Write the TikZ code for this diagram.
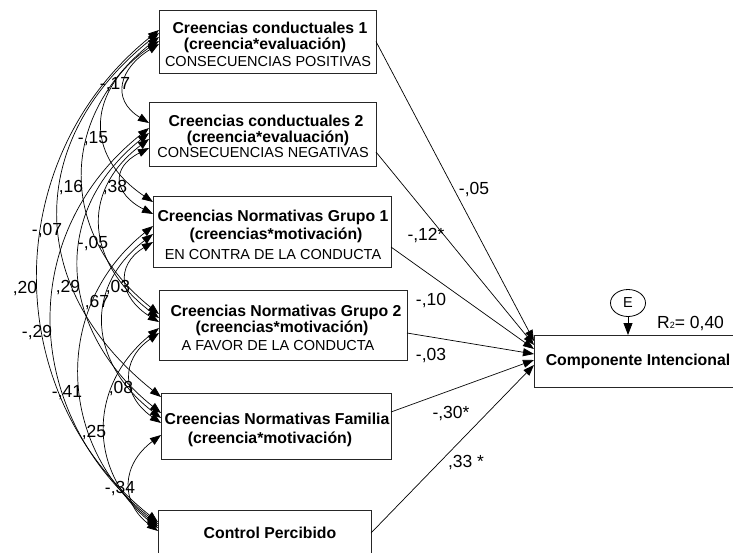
\documentclass[tikz,border=0pt]{standalone}
\usepackage{fontspec}
\setmainfont{Liberation Sans}
\usetikzlibrary{arrows.meta,calc,shapes.geometric}

\begin{document}
\begin{tikzpicture}[x=1pt,y=-1pt,
  >={Triangle[length=11pt,width=8pt]},
  rect/.style n args={2}{draw=black!85, line width=0.9pt, minimum width=#1, minimum height=#2, inner sep=0pt, outer sep=0pt},
  bt/.style={font=\bfseries\fontsize{15.8}{16}\selectfont, anchor=base, inner sep=0pt},
  ut/.style={font=\fontsize{14.5}{15}\selectfont, anchor=base, inner sep=0pt},
  lbl/.style={font=\fontsize{17.5}{18}\selectfont, anchor=base, inner sep=0pt},
  cov/.style={<->, line width=0.7pt},
  path/.style={->, line width=0.7pt}
]
\useasboundingbox (0,0) rectangle (733,552);

% observed variables
\node[rect={217pt}{63pt}] (b1) at (267.5,41.5) {};
\node[rect={227pt}{64pt}] (b2) at (262.5,134) {};
\node[rect={238pt}{71pt}] (b3) at (272,231.5) {};
\node[rect={248pt}{70pt}] (b4) at (283,325) {};
\node[rect={230pt}{66pt}] (b5) at (276,426) {};
\node[rect={213pt}{52pt}] (b6) at (264.5,536) {};
% dependent variable
\node[rect={211pt}{52pt}] (rb) at (639.5,361) {};
% error term
\node[draw, line width=0.8pt, ellipse, minimum width=35pt, minimum height=27pt, inner sep=0pt,
      font=\fontsize{14.5}{15}\selectfont] (E) at (628,303) {E};
\draw[->, line width=0.8pt, >={Triangle[length=12pt,width=9pt]}] (E.south) -- (E.south |- rb.north);

% box texts
\node[bt] (t1a) at (270,33) {Creencias conductuales 1};
\node[bt] (t1b) at (265,49) {(creencia*evaluación)};
\node[ut] (t1c) at (268,66) {CONSECUENCIAS POSITIVAS};
\node[bt] (t2a) at (266,126) {Creencias conductuales 2};
\node[bt] (t2b) at (268,142) {(creencia*evaluación)};
\node[ut] (t2c) at (263,157) {CONSECUENCIAS NEGATIVAS};
\node[bt] (t3a) at (273,221) {Creencias Normativas Grupo 1};
\node[bt] (t3b) at (276,239) {(creencias*motivación)};
\node[ut] (t3c) at (273,259) {EN CONTRA DE LA CONDUCTA};
\node[bt] (t4a) at (286,316) {Creencias Normativas Grupo 2};
\node[bt] (t4b) at (282,332) {(creencias*motivación)};
\node[ut] (t4c) at (278,350) {A FAVOR DE LA CONDUCTA};
\node[bt] (t5a) at (277,424) {Creencias Normativas Familia};
\node[bt] (t5b) at (270,443) {(creencia*motivación)};
\node[bt] (t6a) at (270,538) {Control Percibido};
\node[bt] (tra) at (638,365) {Componente Intencional};
\node[lbl, anchor=base west] (r2) at (657,328) {R{\fontsize{9}{9}\selectfont 2}= 0,40};

% covariances between the predictors
\draw[cov] ($(b1.west)+(0,2.5)$)  .. controls +(-39,24)   and +(-39,-24)   .. ($(b2.west)+(0,-11)$);
\draw[cov] ($(b1.west)+(0,-0.5)$) .. controls +(-71,48)   and +(-71,-48)   .. ($(b3.west)+(0,-29.5)$);
\draw[cov] ($(b1.west)+(0,-4.5)$) .. controls +(-101,81)  and +(-101,-81)  .. ($(b4.west)+(0,-11)$);
\draw[cov] ($(b1.west)+(0,-8.5)$) .. controls +(-135,108) and +(-135,-108) .. ($(b5.west)+(0,-29)$);
\draw[cov] ($(b1.west)+(0,-11.5)$) .. controls +(-160,128) and +(-160,-128) .. ($(b6.west)+(0,-14)$);
\draw[cov] ($(b2.west)+(0,14)$)   .. controls +(-39,20)   and +(-39,-20)   .. ($(b3.west)+(0,-17.5)$);
\draw[cov] ($(b2.west)+(0,5)$)    .. controls +(-71,54)   and +(-71,-54)   .. ($(b4.west)+(0,-7)$);
\draw[cov] ($(b2.west)+(0,-1)$)   .. controls +(-101,81)  and +(-101,-81)  .. ($(b5.west)+(0,-13)$);
\draw[cov] ($(b2.west)+(0,-6)$)   .. controls +(-135,108) and +(-135,-108) .. ($(b6.west)+(0,-12)$);
\draw[cov] ($(b3.west)+(0,10.5)$) .. controls +(-39,24)   and +(-39,-24)   .. ($(b4.west)+(0,-3)$);
\draw[cov] ($(b3.west)+(0,2.5)$)  .. controls +(-71,55)   and +(-71,-55)   .. ($(b5.west)+(0,-8)$);
\draw[cov] ($(b3.west)+(0,-5.5)$) .. controls +(-101,81)  and +(-101,-81)  .. ($(b6.west)+(0,-10)$);
\draw[cov] ($(b4.west)+(0,8)$)    .. controls +(-39,27)   and +(-39,-27)   .. ($(b5.west)+(0,-3)$);
\draw[cov] ($(b4.west)+(0,3)$)    .. controls +(-71,57)   and +(-71,-57)   .. ($(b6.west)+(0,-8)$);
\draw[cov] ($(b5.west)+(0,9)$)    .. controls +(-39,29)   and +(-39,-29)   .. ($(b6.west)+(0,-5)$);

% covariance values
\node[lbl] (c12) at (115,89)  {-,17};
\node[lbl] (c13) at (93,143)  {-,15};
\node[lbl] (c14) at (71,192)  {,16};
\node[lbl] (c23) at (115,192) {,38};
\node[lbl] (c15) at (47,235)  {-,07};
\node[lbl] (c24) at (93,248)  {-,05};
\node[lbl] (c16) at (25,293)  {,20};
\node[lbl] (c25) at (68,292)  {,29};
\node[lbl] (c34) at (118,292) {,03};
\node[lbl] (c35) at (97,307)  {,67};
\node[lbl] (c26) at (37,337)  {-,29};
\node[lbl] (c36) at (67,397)  {-,41};
\node[lbl] (c45) at (121,393) {,08};
\node[lbl] (c46) at (94,437)  {,25};
\node[lbl] (c56) at (120,493) {-,34};

% regression paths
\draw[path] (b1.east) -- ($(rb.west)+(0,-20)$);
\draw[path] ($(b2.east)+(0,18)$)  -- ($(rb.west)+(0,-16)$);
\draw[path] ($(b3.east)+(0,15.5)$) -- ($(rb.west)+(0,-12)$);
\draw[path] ($(b4.east)+(0,8)$)   -- ($(rb.west)+(0,-7)$);
\draw[path] ($(b5.east)+(0,-14)$) -- ($(rb.west)+(0,-1)$);
\draw[path] ($(b6.east)+(0,-3)$)  -- ($(rb.west)+(0,4)$);

% path coefficients
\node[lbl] (p1) at (474,194) {-,05};
\node[lbl] (p2) at (426,240) {-,12*};
\node[lbl] (p3) at (431,305) {-,10};
\node[lbl] (p4) at (431,360) {-,03};
\node[lbl] (p5) at (451,418) {-,30*};
\node[lbl] (p6) at (466,467) {,33 *};
\end{tikzpicture}
\end{document}
